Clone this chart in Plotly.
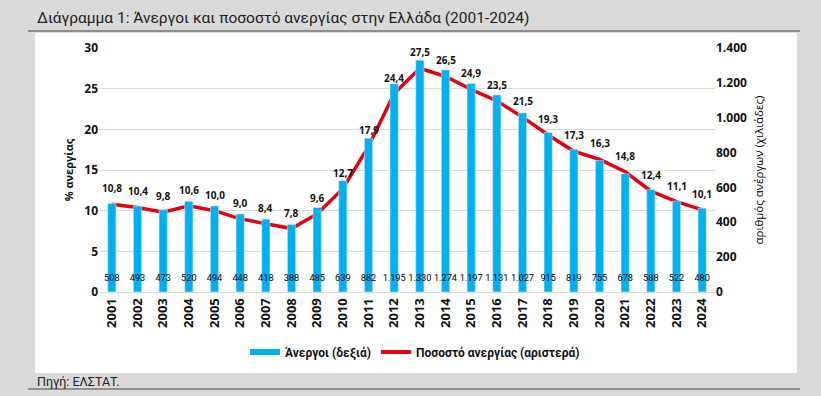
import plotly.graph_objects as go

years = [str(y) for y in range(2001, 2025)]
rate = [10.8, 10.4, 9.8, 10.6, 10.0, 9.0, 8.4, 7.8, 9.6, 12.7, 17.9, 24.4,
        27.5, 26.5, 24.9, 23.5, 21.5, 19.3, 17.3, 16.3, 14.8, 12.4, 11.1, 10.1]
unemployed = [508, 493, 473, 520, 494, 448, 418, 388, 485, 639, 882, 1195,
              1330, 1274, 1197, 1131, 1027, 915, 819, 755, 678, 588, 522, 480]

W, H = 821, 396
L, R, T, B = 99, 715, 48, 292
def fx(px):
    return (px - L) / (R - L)
def fy(py):
    return (B - py) / (B - T)

BLUE = "#00b0f0"
RED = "#e3000f"
FONT = "Open Sans"
NARROW = "Roboto"

fig = go.Figure()
fig.add_trace(go.Bar(x=years, y=unemployed, yaxis="y2", marker_color=BLUE,
                     name="Άνεργοι (δεξιά)", showlegend=False))
fig.add_trace(go.Scatter(x=years, y=[75] * len(years), yaxis="y2", mode="text",
                         text=[f"{v:,}".replace(",", ".") for v in unemployed],
                         textfont=dict(family=NARROW, size=9.2, color="#000"),
                         showlegend=False, hoverinfo="skip"))
fig.add_trace(go.Scatter(x=years, y=rate, mode="lines", line=dict(color=RED, width=3.5),
                         name="Ποσοστό ανεργίας (αριστερά)", showlegend=False))
# legend entries
fig.add_trace(go.Scatter(x=[years[0]], y=[None], mode="lines", line=dict(color=BLUE, width=6),
                         name="Άνεργοι (δεξιά)"))
fig.add_trace(go.Scatter(x=[years[0]], y=[None], mode="lines", line=dict(color=RED, width=4),
                         name="Ποσοστό ανεργίας (αριστερά)"))

annotations = []
for i, v in enumerate(rate):
    annotations.append(dict(x=i, y=v, xref="x", yref="y", yshift=16, showarrow=False,
                            text=f"{v:.1f}".replace(".", ","),
                            font=dict(family=FONT, size=10, color="#111", weight="bold")))
annotations.append(dict(x=fx(35), y=fy(18), xref="paper", yref="paper", xanchor="left",
                        yanchor="middle", showarrow=False,
                        text="Διάγραμμα 1: Άνεργοι και ποσοστό ανεργίας στην Ελλάδα (2001-2024)",
                        font=dict(family=NARROW, size=15.5, color="#222")))
annotations.append(dict(x=fx(35), y=fy(381), xref="paper", yref="paper", xanchor="left",
                        yanchor="middle", showarrow=False, text="Πηγή: ΕΛΣΤΑΤ.",
                        font=dict(family=NARROW, size=12.5, color="#222")))

shapes = [
    dict(type="rect", xref="paper", yref="paper", x0=fx(35), x1=fx(797), y0=fy(33), y1=fy(373),
         fillcolor="white", line=dict(width=0), layer="below"),
    dict(type="line", xref="paper", yref="paper", x0=fx(28), x1=fx(800), y0=fy(31), y1=fy(31),
         line=dict(color="#444", width=1)),
    dict(type="line", xref="paper", yref="paper", x0=fx(28), x1=fx(800), y0=fy(389), y1=fy(389),
         line=dict(color="#777", width=1.5)),
]

fig.update_layout(
    width=W, height=H,
    margin=dict(l=L, r=W - R, t=T, b=H - B, pad=0),
    paper_bgcolor="#d9d9d9", plot_bgcolor="white",
    separators=",.",
    bargap=0.68,
    font=dict(family=FONT, color="#111"),
    xaxis=dict(type="category", categoryorder="array", categoryarray=years,
               range=[-0.5, len(years) - 0.5], tickangle=-90, showgrid=False, showline=True,
               linecolor="#d9d9d9", ticks="",
               tickfont=dict(family=FONT, size=13, color="#111", weight="bold")),
    yaxis=dict(range=[0, 30], dtick=5, showgrid=True, gridcolor="#d9d9d9", zeroline=False,
               tickfont=dict(family=FONT, size=12, color="#111", weight="bold"),
               title=dict(text="% ανεργίας", standoff=8,
                          font=dict(family=FONT, size=11, color="#111", weight="bold"))),
    yaxis2=dict(range=[0, 1400], dtick=200, overlaying="y", side="right", showgrid=False,
                zeroline=False, separatethousands=True,
                tickfont=dict(family=FONT, size=12, color="#111", weight="bold"),
                title=dict(text="αριθμός ανέργων (χιλιάδες)", standoff=8,
                           font=dict(family=FONT, size=11.5, color="#000"))),
    legend=dict(orientation="h", x=fx(415), xanchor="center", y=fy(352), yanchor="middle",
                bgcolor="rgba(0,0,0,0)",
                font=dict(family=NARROW, size=12, color="#111", weight="bold")),
    annotations=annotations, shapes=shapes,
)

fig.write_html("out.html", config={"displayModeBar": False},
               post_script="document.body.style.margin='0';document.body.style.overflow='hidden';")
